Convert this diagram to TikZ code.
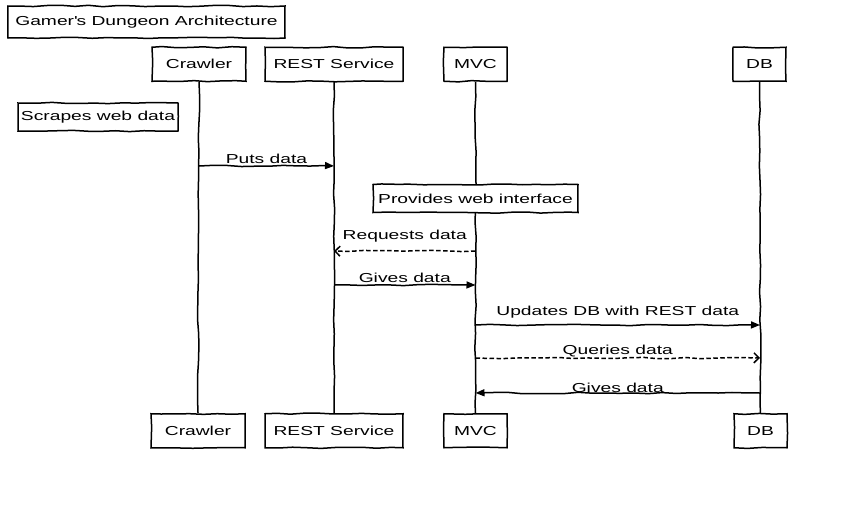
\documentclass[tikz,border=0pt]{standalone}
\usepackage{fontspec}
\setmainfont{Liberation Sans}[FakeStretch=1.48]
\usetikzlibrary{arrows.meta,decorations.pathmorphing}

\begin{document}
\begin{tikzpicture}[x=1pt,y=-1pt,
  sketch/.style={decorate,decoration={random steps,segment length=14pt,amplitude=0.7pt}},
  txt/.style={font=\fontsize{13}{15}\selectfont},
  box/.style={draw,sketch,line width=1.5pt,fill=white,inner sep=0pt,txt},
  actor/.style={box,minimum height=34pt},
  note/.style={box,minimum height=28pt},
  life/.style={draw,sketch,line width=1.5pt},
  msg/.style={sketch,line width=1.5pt,-{Triangle[length=9pt,width=7pt]}},
  reply/.style={sketch,line width=1.5pt,dash pattern=on 4.5pt off 2.5pt,-{Straight Barb[length=5pt,width=10pt]}},
  lbl/.style={txt,above,inner sep=2pt}
]
\pgfmathsetseed{7}
\useasboundingbox (0,0) rectangle (851,530);

% title
\node[box,minimum width=277pt,minimum height=32pt] (title) at (146.5,22) {Gamer\textquotesingle s Dungeon Architecture};

% participant anchors (lifeline ends)
\coordinate (crawlerT) at (199,82);   \coordinate (crawlerB) at (198,413);
\coordinate (restT)    at (334,82);   \coordinate (restB)    at (334,413);
\coordinate (mvcT)     at (475.5,82); \coordinate (mvcB)     at (475.5,413);
\coordinate (dbT)      at (759.5,82); \coordinate (dbB)      at (760.5,413);

% lifelines
\path[life] (crawlerT) -- (crawlerB);
\path[life] (restT) -- (restB);
\path[life] (mvcT) -- (mvcB);
\path[life] (dbT) -- (dbB);

% participants, top row
\node[actor,minimum width=94pt,anchor=south]  (crawler1) at (crawlerT) {Crawler};
\node[actor,minimum width=138pt,anchor=south] (rest1)    at (restT)    {REST Service};
\node[actor,minimum width=63pt,anchor=south]  (mvc1)     at (mvcT)     {MVC};
\node[actor,minimum width=53pt,anchor=south]  (db1)      at (dbT)      {DB};

% participants, bottom row
\node[actor,minimum width=94pt,anchor=north]  (crawler2) at (crawlerB) {Crawler};
\node[actor,minimum width=138pt,anchor=north] (rest2)    at (restB)    {REST Service};
\node[actor,minimum width=63pt,anchor=north]  (mvc2)     at (mvcB)     {MVC};
\node[actor,minimum width=53pt,anchor=north]  (db2)      at (dbB)      {DB};

% notes
\node[note,minimum width=160pt] (scrape) at (98,117) {Scrapes web data};
\node[note,minimum width=205pt] (web)    at (475.5,198.5) {Provides web interface};

% message anchor points on the lifelines
\coordinate (c1) at (199,166);   \coordinate (r1) at (334,166);
\coordinate (m2) at (475.5,251); \coordinate (r2) at (334,251);
\coordinate (r3) at (334,285);   \coordinate (m3) at (475.5,285);
\coordinate (m4) at (475.5,325); \coordinate (d4) at (760,325);
\coordinate (m5) at (475.5,358); \coordinate (d5) at (760,358);
\coordinate (d6) at (760,393);   \coordinate (m6) at (475.5,393);

% messages
\draw[msg]   (c1) -- node[lbl] {Puts data} (r1);
\draw[reply] (m2) -- node[lbl,yshift=6pt] {Requests data} (r2);
\draw[msg]   (r3) -- node[lbl] {Gives data} (m3);
\draw[msg]   (m4) -- node[lbl,yshift=4pt] {Updates DB with REST data} (d4);
\draw[reply] (m5) -- node[lbl,yshift=-2pt] {Queries data} (d5);
\draw[msg]   (d6) -- node[lbl,yshift=-2pt] {Gives data} (m6);
\end{tikzpicture}
\end{document}
